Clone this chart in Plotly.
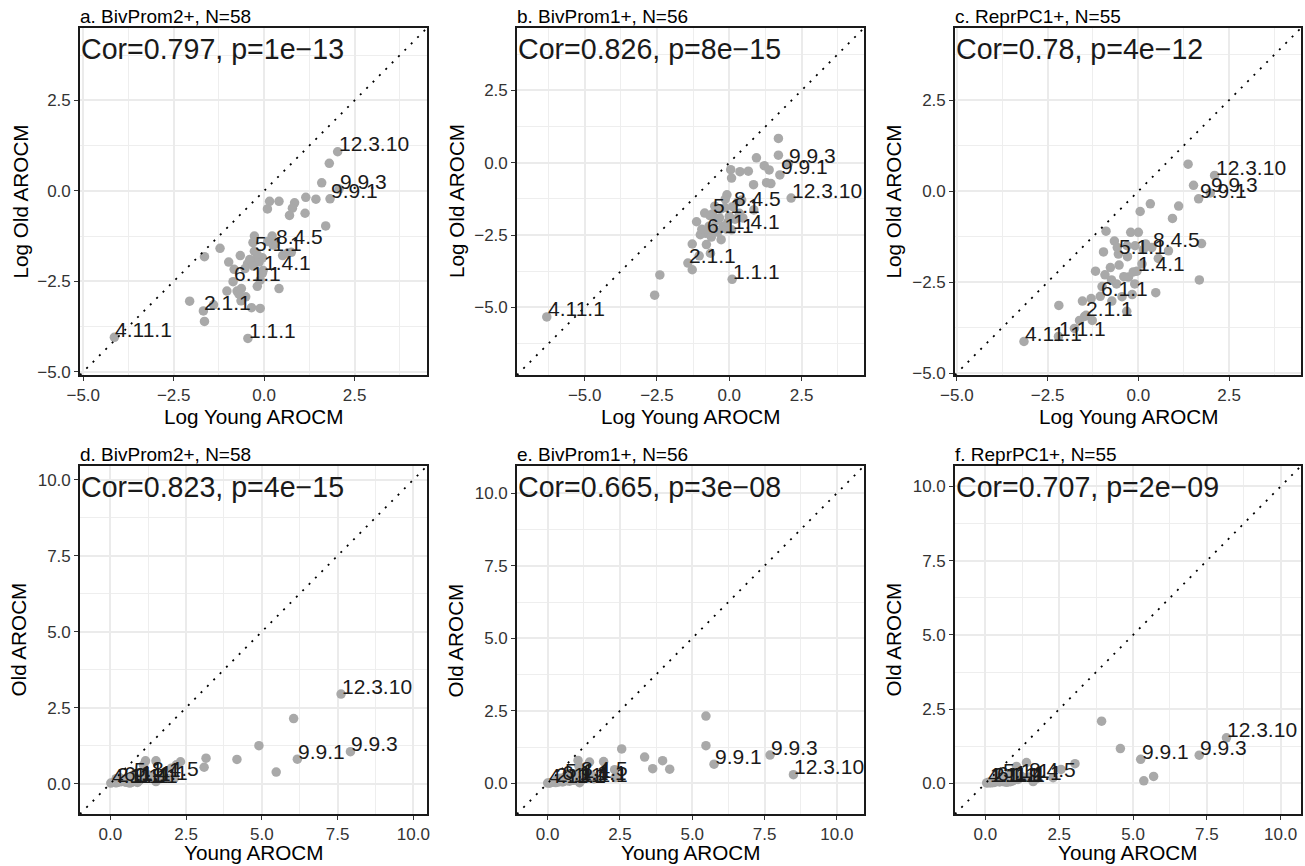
import numpy as np
import plotly.graph_objects as go

W, H = 1305, 866
MINUS = "\u2212"

# ---------------- data: log AROCM values ----------------
# Panel a / d : BivProm2+, N=58
a_labels = ["12.3.10", "9.9.3", "9.9.1", "8.4.5", "5.1.1", "1.4.1", "6.1.1", "2.1.1", "4.11.1", "1.1.1"] + [""] * 48
a_log_young = [2.03, 2.07, 1.82, 0.30, -0.27, -0.03, -0.86, -1.68, -4.14, -0.45,
               1.80, 1.59, 1.43, 1.15, 1.13, 0.84, 0.78, 0.70, 0.41, 0.15,
               0.09, 1.70, -0.27, 0.22, -0.31, 0.51, 0.75, -0.66, -0.98, -0.46,
               -0.32, -0.14, -0.83, -0.53, -0.05, -0.11, -0.19, 0.41, -1.03, -0.75,
               -0.63, -0.64, -0.51, -0.35, -0.11, -2.06, -1.65, -1.22, -1.65, 0.25,
               0.10, -0.40, -0.05, 0.65, -0.20, -0.30, -1.40, -0.70]
a_log_old = [1.08, 0.05, -0.22, -1.47, -1.67, -2.20, -2.51, -3.32, -4.05, -4.08,
             0.76, 0.22, -0.23, -0.18, -0.62, -0.33, -0.48, -0.68, -0.29, -0.29,
             -0.50, -0.97, -1.25, -1.25, -1.43, -1.79, -1.70, -1.79, -1.97, -2.02,
             -1.95, -1.97, -2.17, -2.15, -2.28, -2.47, -2.64, -2.70, -2.77, -2.77,
             -2.70, -3.04, -2.93, -3.23, -3.25, -3.05, -3.61, -1.59, -1.82, -1.50,
             -1.40, -1.90, -1.85, -1.72, -1.75, -2.08, -3.15, -2.85]

# Panel b / e : BivProm1+, N=56
b_labels = ["9.9.3", "9.9.1", "12.3.10", "8.4.5", "5.1.1", "1.4.1", "6.1.1", "2.1.1", "1.1.1", "4.11.1"] + [""] * 46
b_log_young = [2.04, 1.75, 2.14, 0.12, -0.58, 0.08, -0.81, -1.43, 0.10, -6.31,
               1.70, 1.70, 0.94, 1.21, 1.38, 0.05, 0.08, 0.37, 0.66, 0.84,
               1.29, 1.44, -0.08, -0.14, 0.43, 0.85, -0.85, -1.13, -0.34, -0.22,
               -0.10, 0.47, -1.00, -0.62, -0.28, -0.79, -1.28, -1.04, -0.65, -1.28,
               -2.40, -2.58, 0.30, -0.45, -0.30, -0.55, 0.20, -0.15, 0.00, -0.40,
               -0.70, -0.95, 0.35, -0.05, -0.50, -0.67]
b_log_old = [-0.03, -0.42, -1.22, -1.52, -1.77, -2.32, -2.44, -3.47, -4.03, -5.33,
             0.84, 0.26, 0.17, -0.10, -0.25, -0.24, -0.53, -0.31, -0.29, -0.76,
             -0.69, -0.72, -1.11, -1.26, -1.29, -1.63, -1.74, -2.04, -1.91, -2.20,
             -2.30, -1.91, -2.49, -2.57, -2.66, -2.83, -2.81, -3.22, -3.13, -3.70,
             -3.88, -4.58, -1.35, -2.00, -1.60, -2.25, -1.95, -1.55, -1.85, -2.40,
             -2.20, -2.30, -1.75, -2.05, -1.50, -1.83]

# Panel c / f : ReprPC1+, N=55
c_labels = ["12.3.10", "9.9.3", "9.9.1", "8.4.5", "5.1.1", "1.4.1", "6.1.1", "2.1.1", "1.1.1", "4.11.1"] + [""] * 45
c_log_young = [2.10, 1.98, 1.66, 0.37, -0.55, -0.04, -1.05, -1.48, -2.20, -3.15,
               1.37, 1.52, 0.33, 0.05, 1.11, 0.94, -0.89, -0.21, 0.00, -0.66,
               1.74, -0.96, -0.31, -0.09, -0.77, -0.92, -1.18, -0.53, -0.14, -0.27,
               1.68, 0.48, -0.17, -1.54, -2.19, -1.44, -1.27, -0.32, -1.76, 0.83,
               0.14, -0.73, -0.40, -0.74, 0.20, -0.60, -1.00, -0.30, 0.10, -0.45,
               -1.30, -0.10, 0.55, -0.58, -1.62]
c_log_old = [0.43, -0.05, -0.21, -1.55, -1.73, -2.20, -2.89, -3.44, -3.99, -4.13,
             0.74, 0.16, -0.35, -0.56, -0.41, -0.75, -1.10, -1.13, -1.13, -1.37,
             -1.44, -1.67, -1.50, -1.50, -2.10, -2.30, -2.20, -2.03, -2.22, -2.36,
             -2.44, -2.79, -2.84, -3.02, -3.14, -3.41, -3.55, -3.30, -3.77, -1.64,
             -1.60, -3.02, -2.35, -2.44, -1.45, -2.55, -2.62, -1.80, -2.00, -2.90,
             -2.95, -2.55, -1.85, -1.55, -3.55]

titles = ["a. BivProm2+, N=58", "b. BivProm1+, N=56", "c. ReprPC1+, N=55",
          "d. BivProm2+, N=58", "e. BivProm1+, N=56", "f. ReprPC1+, N=55"]
cor_texts = ["Cor=0.797, p=1e" + MINUS + "13", "Cor=0.826, p=8e" + MINUS + "15", "Cor=0.78, p=4e" + MINUS + "12",
             "Cor=0.823, p=4e" + MINUS + "15", "Cor=0.665, p=3e" + MINUS + "08", "Cor=0.707, p=2e" + MINUS + "09"]

# ---------------- layout geometry (pixels) ----------------
boxes = [((80, 427), (28, 375)), ((517, 864), (28, 375)), ((955, 1301), (28, 375)),
         ((80, 427), (466, 814)), ((517, 864), (466, 814)), ((955, 1301), (466, 814))]
ranges = [(-5.09, 4.50), (-7.34, 4.66), (-5.05, 4.48),
          (-1.00, 10.45), (-1.06, 10.94), (-1.03, 10.69)]
ytitle_x = [20, 456.5, 893, 17.5, 454.5, 892.5]
xtitle_off = [28, 28, 28, 25, 25, 25]

datasets = [(a_labels, a_log_young, a_log_old), (b_labels, b_log_young, b_log_old),
            (c_labels, c_log_young, c_log_old)]

FONT = "Liberation Sans, Arial, Helvetica, sans-serif"
PT_COLOR = "#A9A9A9"


def px2x(p):
    return p / W


def py2y(p):
    return 1 - p / H


fig = go.Figure()
annotations = []
layout_axes = {}

for i in range(6):
    n = i + 1
    xs = "x" if n == 1 else f"x{n}"
    ys = "y" if n == 1 else f"y{n}"
    xk = "xaxis" if n == 1 else f"xaxis{n}"
    yk = "yaxis" if n == 1 else f"yaxis{n}"
    labels, lx, ly = datasets[i % 3]
    lx = np.array(lx)
    ly = np.array(ly)
    if i < 3:
        xv, yv = lx, ly
        xtitle, ytitle = "Log Young AROCM", "Log Old AROCM"
    else:
        xv, yv = np.exp(lx), np.exp(ly)
        xtitle, ytitle = "Young AROCM", "Old AROCM"
    rng = ranges[i]
    (x0, x1), (y0, y1) = boxes[i]

    fig.add_trace(go.Scatter(x=xv, y=yv, mode="markers", xaxis=xs, yaxis=ys,
                             marker=dict(size=9.5, color=PT_COLOR, line=dict(width=0)),
                             hoverinfo="skip", showlegend=False))
    fig.add_trace(go.Scatter(x=[rng[0], rng[1]], y=[rng[0], rng[1]], mode="lines",
                             xaxis=xs, yaxis=ys,
                             line=dict(color="black", width=1.8, dash="2px,7px"),
                             hoverinfo="skip", showlegend=False))

    for lab, px_, py_ in zip(labels, xv, yv):
        if lab:
            annotations.append(dict(x=px_, y=py_, xref=xs, yref=ys, text=lab, showarrow=False,
                                    xanchor="left", yanchor="bottom", xshift=-1, yshift=-5.5,
                                    font=dict(family=FONT, size=21, color="#1a1a1a")))

    ax = dict(range=list(rng), tickmode="linear", tick0=0, dtick=2.5, tickformat=".1f",
              showgrid=True, gridcolor="#EBEBEB", gridwidth=1.6,
              minor=dict(tickmode="linear", tick0=0, dtick=1.25, showgrid=True,
                         gridcolor="#EEEEEE", gridwidth=1.0),
              zeroline=False, showline=True, mirror=True, linecolor="#1a1a1a", linewidth=1.6,
              ticks="outside", ticklen=4, tickwidth=1, tickcolor="#333333",
              tickfont=dict(family=FONT, size=17, color="#333333"),
              automargin=False, fixedrange=True)
    layout_axes[xk] = dict(ax, domain=[px2x(x0), px2x(x1)], anchor=ys)
    layout_axes[yk] = dict(ax, domain=[py2y(y1), py2y(y0)], anchor=xs)

    # panel title
    annotations.append(dict(x=px2x(x0), y=py2y(y0 + 1), xref="paper", yref="paper", text=titles[i],
                            showarrow=False, xanchor="left", yanchor="bottom", xshift=-2,
                            font=dict(family=FONT, size=19, color="black")))
    # correlation text
    annotations.append(dict(x=px2x(x0), y=py2y(y0 + 39), xref="paper", yref="paper", text=cor_texts[i],
                            showarrow=False, xanchor="left", yanchor="bottom", xshift=-1,
                            font=dict(family=FONT, size=28.6, color="#1a1a1a")))
    # axis titles
    annotations.append(dict(x=px2x((x0 + x1) / 2), y=py2y(y1 + xtitle_off[i]), xref="paper", yref="paper",
                            text=xtitle, showarrow=False, xanchor="center", yanchor="top",
                            font=dict(family=FONT, size=20.7, color="black")))
    annotations.append(dict(x=px2x(ytitle_x[i]), y=py2y((y0 + y1) / 2), xref="paper", yref="paper",
                            text=ytitle, showarrow=False, xanchor="center", yanchor="middle",
                            textangle=-90, font=dict(family=FONT, size=20.7, color="black")))

fig.update_layout(width=W, height=H, margin=dict(l=0, r=0, t=0, b=0, autoexpand=False),
                  paper_bgcolor="white", plot_bgcolor="white", showlegend=False,
                  annotations=annotations, **layout_axes)

fig.write_html("out.html")
